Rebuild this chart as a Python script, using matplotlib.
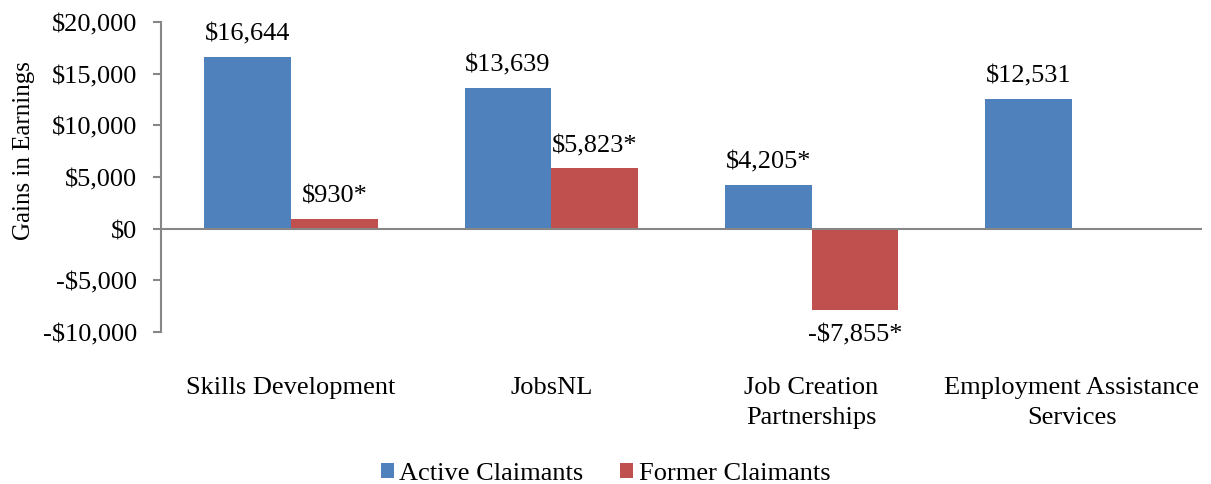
import matplotlib.pyplot as plt
import numpy as np

plt.rcParams['font.family'] = ['Liberation Serif', 'DejaVu Serif']

programs = ["Skills Development", "JobsNL", "Job Creation\nPartnerships",
            "Employment Assistance\nServices"]
active = [16644, 13639, 4205, 12531]
former = [930, 5823, -7855, None]
active_labels = ["$16,644", "$13,639", "$4,205*", "$12,531"]
former_labels = ["$930*", "$5,823*", "-$7,855*", None]
yticks = [-10000, -5000, 0, 5000, 10000, 15000, 20000]

blue = '#4F81BD'
red = '#C0504D'
grey = '#868686'
fs = 19

fig = plt.figure(figsize=(12.11, 4.85), dpi=100)
ax = fig.add_axes([161 / 1211, 1 - 333 / 485, 1041 / 1211, 310 / 485])

x = np.arange(len(programs))
width = 1 / 3
f_vals = [v if v is not None else 0 for v in former]

b1 = ax.bar(x - width / 2, active, width, color=blue, label="Active Claimants")
b2 = ax.bar(x + width / 2, f_vals, width, color=red, label="Former Claimants")
b2[3].set_visible(False)

for rect, lab in zip(b1, active_labels):
    h = rect.get_height()
    ax.annotate(lab, xy=(rect.get_x() + rect.get_width() / 2, h),
                xytext=(0, 9), textcoords="offset points",
                ha='center', va='bottom', fontsize=fs)
for rect, lab, v in zip(b2, former_labels, former):
    if lab is None:
        continue
    h = rect.get_height()
    if v >= 0:
        ax.annotate(lab, xy=(rect.get_x() + rect.get_width() / 2, h),
                    xytext=(0, 9), textcoords="offset points",
                    ha='center', va='bottom', fontsize=fs)
    else:
        ax.annotate(lab, xy=(rect.get_x() + rect.get_width() / 2, h),
                    xytext=(0, -10), textcoords="offset points",
                    ha='center', va='top', fontsize=fs)

ax.set_xlim(-0.5, len(programs) - 0.5)
ax.set_ylim(-10000, 20000)
ax.set_yticks(yticks)
ax.set_yticklabels([("-$" if t < 0 else "$") + format(abs(t), ",") for t in yticks],
                   fontsize=fs)
ax.set_xticks(x)
ax.set_xticklabels(programs, fontsize=fs, linespacing=1.45, va='top')
ax.tick_params(axis='x', length=0, pad=32)
ax.tick_params(axis='y', length=6, width=1.5, color=grey, pad=11)

for s in ['top', 'right', 'bottom']:
    ax.spines[s].set_visible(False)
ax.spines['left'].set_color(grey)
ax.spines['left'].set_linewidth(1.5)
ax.axhline(0, color=grey, linewidth=1.5, zorder=3)

ax.set_ylabel("Gains in Earnings", fontsize=18)
ax.yaxis.set_label_coords(-0.121, 0.587)

fig.legend(loc='lower center', bbox_to_anchor=(0.5, -0.05), ncol=2, frameon=False,
           fontsize=fs, handlelength=0.5, handleheight=0.5, handletextpad=0.2,
           columnspacing=1.4)

fig.savefig("out.png", dpi=100)
